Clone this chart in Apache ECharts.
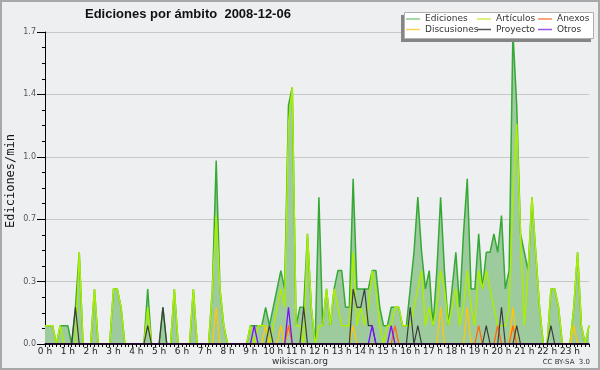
<!DOCTYPE html>
<html>
<head>
<meta charset="utf-8">
<script src="https://cdn.jsdelivr.net/npm/echarts@6.0.0/dist/echarts.min.js"></script>
<style>
html,body{margin:0;padding:0;background:#eeeff1;}
#chart{width:600px;height:370px;}
</style>
</head>
<body>
<div id="chart"></div>
<script>
// Hour tick labels (x axis)
var hourLabels = ['0 h','1 h','2 h','3 h','4 h','5 h','6 h','7 h','8 h','9 h','10 h','11 h',
  '12 h','13 h','14 h','15 h','16 h','17 h','18 h','19 h','20 h','21 h','22 h','23 h'];
// Y axis tick values
var yTicks = [0, 0.34, 0.68, 1.02, 1.36, 1.7];

// Edits per minute, one value per 10-minute slot (6 per hour)
var ediciones = [
  0.1,0.1,0.1,0,0.1,0.1,
  0.1,0,0.2,0.5,0,0,
  0,0.3,0,0,0,0,
  0.3,0.3,0.2,0,0,0,
  0,0,0,0.3,0,0,
  0,0.2,0,0,0.3,0,
  0,0,0,0.3,0,0,
  0,0,0.3,1.0,0.3,0.1,
  0,0,0,0,0,0,
  0.1,0.1,0.1,0.1,0.2,0.1,
  0.2,0.3,0.4,0.3,1.3,1.4,
  0.1,0.2,0.2,0.6,0.2,0,
  0.8,0.1,0.3,0.1,0.3,0.4,
  0.4,0.2,0.2,0.9,0.3,0.3,
  0.3,0.3,0.4,0.4,0.2,0.1,
  0.1,0.2,0.2,0.2,0.1,0.1,
  0.3,0.5,0.8,0.5,0.3,0.4,
  0.1,0.4,0.8,0.4,0.1,0.3,
  0.5,0.2,0.6,0.9,0.3,0.3,
  0.6,0.3,0.5,0.5,0.6,0.5,
  0.7,0.3,0.4,1.7,1.3,0.6,
  0.5,0.4,0.8,0.5,0.2,0,
  0,0.3,0.3,0.2,0,0,
  0,0.2,0.5,0.1,0,0.1
];
var articulos = [
  0.1,0.1,0.1,0,0.1,0,
  0,0,0,0.5,0,0,
  0,0.3,0,0,0,0,
  0.3,0.3,0.2,0,0,0,
  0,0,0,0.2,0,0,
  0,0,0,0,0.3,0,
  0,0,0,0.3,0,0,
  0,0,0.3,0.7,0.3,0.1,
  0,0,0,0,0,0,
  0.1,0,0.1,0.1,0.1,0,
  0.1,0.2,0.3,0.2,1.2,1.4,
  0.1,0.1,0,0.6,0.2,0,
  0.1,0.1,0.3,0.1,0.3,0.2,
  0.1,0.1,0.1,0.5,0.1,0.2,
  0.1,0.2,0.4,0.3,0.1,0,
  0.1,0.1,0.2,0.2,0.1,0.1,
  0.1,0.2,0.3,0.4,0.1,0.2,
  0.1,0.2,0.4,0.3,0.1,0.2,
  0.3,0.1,0.2,0.4,0.2,0.1,
  0.4,0.3,0.4,0.3,0.2,0.1,
  0.1,0.1,0.2,0.8,1.2,0.6,
  0.1,0.4,0.8,0.5,0.2,0,
  0,0.3,0.3,0.2,0,0,
  0,0.2,0.5,0.1,0,0.1
];
var discusiones = [
  0,0,0,0,0,0, 0,0,0,0,0,0, 0,0,0,0,0,0, 0,0,0,0,0,0,
  0,0,0,0,0,0, 0,0,0,0,0,0, 0,0,0,0,0,0, 0,0,0,0.2,0,0,
  0,0,0,0,0,0, 0,0,0,0,0.1,0, 0,0,0.1,0,0.1,0, 0,0,0,0,0,0,
  0,0,0,0,0,0, 0,0,0,0.1,0,0, 0,0,0,0,0,0, 0,0,0,0,0,0,
  0,0,0,0,0,0, 0,0,0.2,0,0,0, 0,0,0,0.2,0,0, 0,0,0,0,0,0,
  0,0,0,0.2,0,0, 0,0,0,0,0,0, 0,0,0,0,0,0, 0,0.1,0,0,0,0
];
var anexos = [
  0,0,0,0,0,0, 0,0,0,0,0,0, 0,0,0,0,0,0, 0,0,0,0,0,0,
  0,0,0,0,0,0, 0,0,0,0,0,0, 0,0,0,0,0,0, 0,0,0,0,0,0,
  0,0,0,0,0,0, 0,0,0,0,0,0, 0,0,0,0,0.1,0, 0,0,0,0,0,0,
  0,0,0,0,0,0, 0,0,0,0,0,0, 0,0,0,0,0,0, 0,0,0.1,0,0,0,
  0,0,0,0,0,0, 0,0,0,0,0,0, 0,0,0,0,0,0, 0.1,0,0,0,0,0.1,
  0,0,0,0.1,0,0, 0,0,0,0,0,0, 0,0,0,0,0,0, 0,0,0,0,0,0
];
var proyecto = [
  0,0,0,0,0,0, 0,0,0.2,0,0,0, 0,0,0,0,0,0, 0,0,0,0,0,0,
  0,0,0,0.1,0,0, 0,0.2,0,0,0,0, 0,0,0,0,0,0, 0,0,0,0,0,0,
  0,0,0,0,0,0, 0,0,0,0,0,0.1, 0,0,0,0,0,0, 0,0,0.2,0,0,0,
  0,0,0,0,0,0, 0,0,0,0.3,0.2,0.2, 0.3,0.1,0.1,0,0,0, 0,0,0,0,0,0,
  0.2,0,0.1,0,0,0, 0,0,0,0,0,0, 0,0,0,0,0,0, 0,0,0.1,0,0,0,
  0.2,0,0,0,0.1,0, 0,0,0,0,0,0, 0,0.1,0,0,0,0, 0,0,0,0,0,0
];
var otros = [
  0,0,0,0,0,0, 0,0,0,0,0,0, 0,0,0,0,0,0, 0,0,0,0,0,0,
  0,0,0,0,0,0, 0,0,0,0,0,0, 0,0,0,0,0,0, 0,0,0,0,0,0,
  0,0,0,0,0,0, 0,0.1,0,0,0,0, 0,0,0,0,0.2,0, 0,0,0,0,0,0,
  0,0,0,0,0,0, 0,0,0,0,0,0, 0,0,0.1,0,0,0, 0,0.1,0,0,0,0,
  0,0,0,0,0,0, 0,0,0,0,0,0, 0,0,0,0,0,0, 0,0,0,0,0,0,
  0,0,0,0,0,0, 0,0,0,0,0,0, 0,0,0,0,0,0, 0,0,0,0,0,0
];

// 10-minute slot categories built from the hour labels
var slots = [];
for (var h = 0; h < hourLabels.length; h++) {
  for (var k = 0; k < 6; k++) {
    slots.push(k === 0 ? hourLabels[h] : h + ':' + k + '0');
  }
}

var FONT = 'DejaVu Sans';
var chart = echarts.init(document.getElementById('chart'), null, {renderer: 'canvas'});

function lg(name, left, top, color) {
  return {
    data: [{name: name, itemStyle: {color: color}}],
    left: left, top: top, orient: 'horizontal',
    padding: 0, itemGap: 0, itemWidth: 14, itemHeight: 1.5,
    icon: 'rect', selectedMode: false, z: 20,
    textStyle: {fontFamily: FONT, fontSize: 9, color: '#333', padding: [0,0,0,0], lineHeight: 10}
  };
}

function line(name, data, color, width, extra) {
  var s = {
    name: name, type: 'line', data: data, showSymbol: false, symbol: 'none',
    silent: true, lineStyle: {color: color, width: width}, itemStyle: {color: color}
  };
  if (extra) for (var key in extra) s[key] = extra[key];
  return s;
}

chart.setOption({
  animation: false,
  backgroundColor: '#eeeff1',
  title: {
    text: 'Ediciones por ámbito  2008-12-06',
    left: 85, top: 8, padding: 0,
    textStyle: {fontFamily: 'Liberation Sans', fontSize: 13, fontWeight: 'bold', color: '#111'}
  },
  legend: [
    lg('Ediciones', 406, 14, '#88cc88'),
    lg('Artículos', 477, 14, '#ccee55'),
    lg('Anexos', 538, 14, '#ff8855'),
    lg('Discusiones', 406, 24.5, '#ffd455'),
    lg('Proyecto', 477, 24.5, '#555555'),
    lg('Otros', 538, 24.5, '#9955ee')
  ],
  grid: {left: 45, right: 11, top: 32, bottom: 26, containLabel: false, outerBoundsMode: 'none'},
  xAxis: {
    type: 'category', data: slots, boundaryGap: false, z: 10,
    axisLine: {show: true, lineStyle: {color: '#000', width: 1.5}},
    axisTick: {show: true, interval: 0, length: 3, lineStyle: {color: '#000', width: 1}},
    axisLabel: {interval: 5, fontFamily: FONT, fontSize: 9, color: '#222', margin: 3},
    splitLine: {show: false}
  },
  yAxis: {
    type: 'value', min: yTicks[0], max: yTicks[yTicks.length - 1], interval: yTicks[1],
    axisLine: {show: true, lineStyle: {color: '#000', width: 1}},
    axisTick: {show: true, length: 8, lineStyle: {color: '#000'}},
    minorTick: {show: true, splitNumber: 4, length: 3, lineStyle: {color: '#000'}},
    splitLine: {show: true, lineStyle: {color: '#c8c8c8', width: 1}},
    minorSplitLine: {show: false},
    axisLabel: {fontFamily: FONT, fontSize: 8, color: '#555', margin: 9,
      formatter: function (v) { return v.toFixed(1); }}
  },
  graphic: [
    {type: 'rect', z: -1, silent: true, shape: {x: 1, y: 1, width: 598, height: 368},
      style: {fill: 'none', stroke: '#a8a8a8', lineWidth: 2}},
    {type: 'rect', z: 15, silent: true, shape: {x: 401, y: 15, width: 190, height: 27},
      style: {fill: '#858585'}},
    {type: 'rect', z: 16, silent: true, shape: {x: 404.5, y: 12.5, width: 189, height: 26},
      style: {fill: '#ffffff', stroke: '#b0b0b0', lineWidth: 1}},
    {type: 'text', z: 5, silent: true, x: 11, y: 181, rotation: Math.PI / 2,
      style: {text: 'Ediciones/min', fontFamily: 'DejaVu Sans Mono', fontSize: 12, fill: '#111',
        textAlign: 'center', textVerticalAlign: 'middle'}},
    {type: 'text', z: 5, silent: true, x: 300, y: 362,
      style: {text: 'wikiscan.org', fontFamily: FONT, fontSize: 9, fill: '#333',
        textAlign: 'center', textVerticalAlign: 'middle'}},
    {type: 'text', z: 5, silent: true, x: 590, y: 362,
      style: {text: 'CC BY-SA  3.0', fontFamily: FONT, fontSize: 7, fill: '#333',
        textAlign: 'right', textVerticalAlign: 'middle'}}
  ],
  series: [
    line('Ediciones', ediciones, '#36a836', 1.5, {areaStyle: {color: '#9ecb9e', opacity: 1}, z: 2}),
    line('Artículos', articulos, '#aaee00', 1.5, {z: 3}),
    line('Discusiones', discusiones, '#ffc800', 1.3, {z: 4}),
    line('Anexos', anexos, '#ff6a10', 1.3, {z: 5}),
    line('Proyecto', proyecto, '#3c3c3c', 1.2, {z: 6}),
    line('Otros', otros, '#7a10ff', 1.3, {z: 7})
  ]
});
</script>
</body>
</html>
